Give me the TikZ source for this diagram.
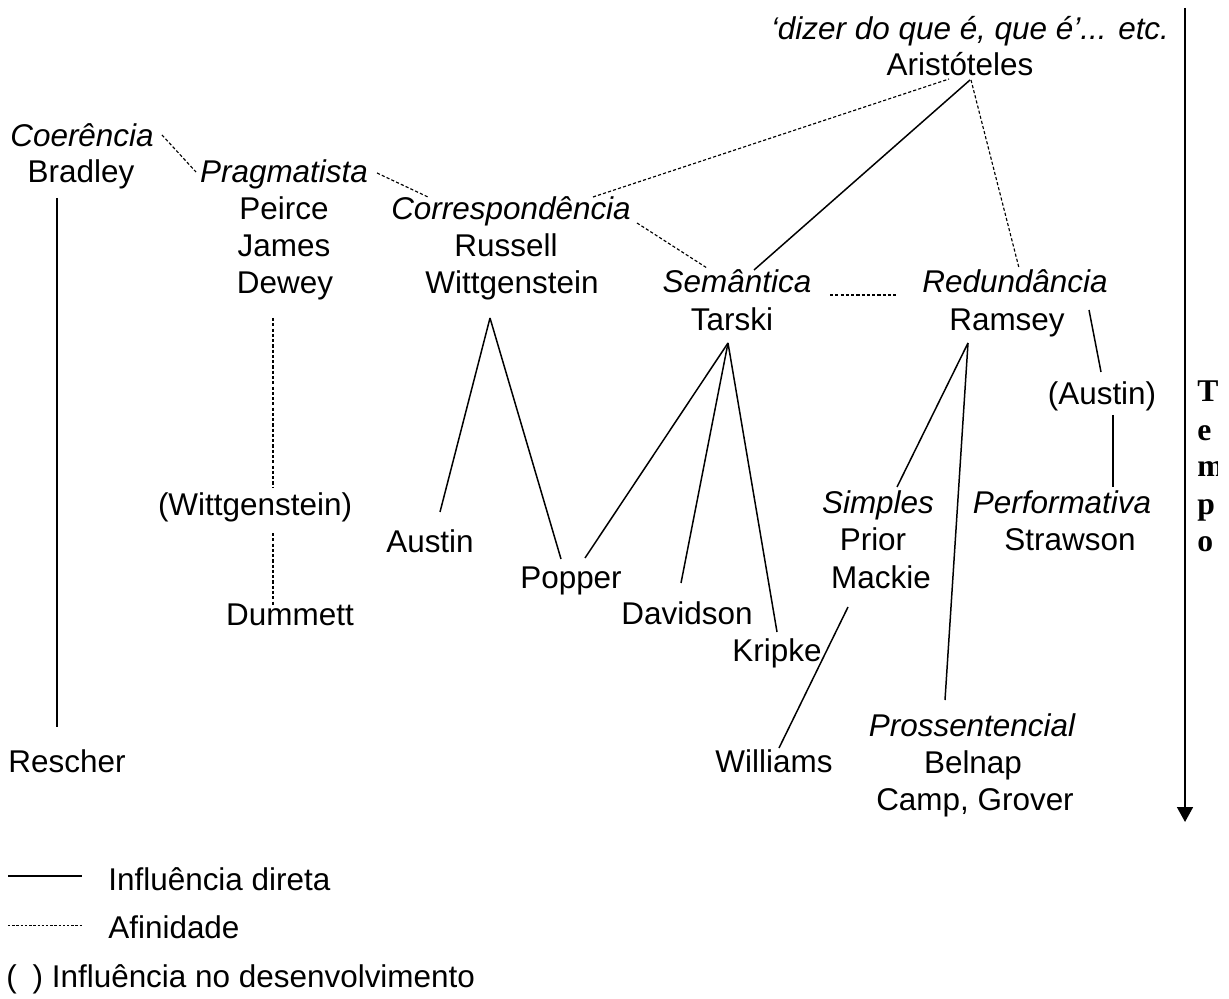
\documentclass[tikz,border=0pt]{standalone}
\usepackage{fontspec}
\setmainfont{Liberation Sans}
\newfontfamily\tempofont{Liberation Serif}
\usetikzlibrary{calc,arrows.meta}
\newcommand{\labelsize}{\fontsize{17.9pt}{21pt}\selectfont}

\tikzset{
  thinker/.style={inner sep=0pt, anchor=base, font=\labelsize},
  theory/.style={thinker, font=\labelsize\itshape},
  tempoletter/.style={inner sep=0pt, anchor=base west, font=\tempofont\bfseries\fontsize{18pt}{20pt}\selectfont},
  direct/.style={line width=0.85pt},
  affin/.style={line width=0.65pt, dash pattern=on 1.8pt off 1.2pt},
  timeline/.style={line width=1.2pt, -{Triangle[width=9pt,length=8.5pt]}}
}

\begin{document}
\begin{tikzpicture}[x=0.02cm, y=-0.02cm]
  \useasboundingbox (0,0) rectangle (1229,999);

  % Aristoteles
  \node[theory] (dizer) at (970,40) {‘dizer do que é, que é’... etc.};
  \node[thinker] (arist) at (960,76) {Aristóteles};

  % Coerencia
  \node[theory] (coer) at (82,147) {Coerência};
  \node[thinker] (bradley) at (81,183) {Bradley};
  \node[thinker] (rescher) at (67,772) {Rescher};

  % Pragmatista
  \node[theory] (prag) at (284,183) {Pragmatista};
  \node[thinker] (peirce) at (284,220) {Peirce};
  \node[thinker] (james) at (284,257) {James};
  \node[thinker] (dewey) at (285,294) {Dewey};
  \node[thinker] (wittpar) at (255,515) {(Wittgenstein)};
  \node[thinker] (dummett) at (290,625) {Dummett};

  % Correspondencia
  \node[theory] (corr) at (511,220) {Correspondência};
  \node[thinker] (russell) at (506,257) {Russell};
  \node[thinker] (wittg) at (512,294) {Wittgenstein};
  \node[thinker] (austin) at (430,552) {Austin};
  \node[thinker] (popper) at (571,588) {Popper};

  % Semantica
  \node[theory] (seman) at (737,293) {Semântica};
  \node[thinker] (tarski) at (732,331) {Tarski};
  \node[thinker] (davidson) at (687,624) {Davidson};
  \node[thinker] (kripke) at (777,661) {Kripke};

  % Redundancia
  \node[theory] (redund) at (1015,293) {Redundância};
  \node[thinker] (ramsey) at (1007,331) {Ramsey};
  \node[thinker] (austinpar) at (1102,405) {(Austin)};
  \node[theory] (simples) at (878,513) {Simples};
  \node[thinker] (prior) at (873,550) {Prior};
  \node[thinker] (mackie) at (881,588) {Mackie};
  \node[thinker] (williams) at (774,772) {Williams};
  \node[theory] (perf) at (1062,513) {Performativa};
  \node[thinker] (strawson) at (1070,550) {Strawson};
  \node[theory] (prosent) at (972,736) {Prossentencial};
  \node[thinker] (belnap) at (973,773) {Belnap};
  \node[thinker] (grover) at (975,810) {Camp, Grover};

  % Afinidades
  \draw[affin] ($(coer.base)+(80,-12)$) -- ($(prag.base)+(-88,-11)$);
  \draw[affin] ($(prag.base)+(93,-10)$) -- ($(corr.base)+(-83,-23)$);
  \draw[affin] ($(corr.base)+(82,-23)$) -- ($(arist.base)+(-11,3)$);
  \draw[affin] ($(corr.base)+(126,3)$) -- ($(seman.base)+(-30,-25)$);
  \draw[affin] ($(arist.base)+(11,4)$) -- ($(redund.base)+(4,-25)$);
  \draw[affin] ($(seman.base)+(93,2)$) -- ($(redund.base)+(-117,2)$);
  \draw[affin] ($(dewey.base)+(-12,24)$) -- ($(wittpar.base)+(18,-28)$);
  \draw[affin] ($(wittpar.base)+(18,18)$) -- ($(dummett.base)+(-17,-20)$);

  % Influencias diretas
  \draw[direct] ($(arist.base)+(10,4)$) -- ($(seman.base)+(17,-23)$);
  \draw[direct] ($(bradley.base)+(-24,15)$) -- ($(rescher.base)+(-10,-45)$);
  \draw[direct] ($(wittg.base)+(-22,24)$) -- ($(austin.base)+(10,-40)$);
  \draw[direct] ($(wittg.base)+(-22,24)$) -- ($(popper.base)+(-10,-29)$);
  \draw[direct] ($(tarski.base)+(-4,12)$) -- ($(popper.base)+(14,-30)$);
  \draw[direct] ($(tarski.base)+(-4,12)$) -- ($(davidson.base)+(-6,-41)$);
  \draw[direct] ($(tarski.base)+(-4,12)$) -- ($(kripke.base)+(0,-29)$);
  \draw[direct] ($(ramsey.base)+(-39,12)$) -- ($(simples.base)+(19,-26)$);
  \draw[direct] ($(ramsey.base)+(-39,12)$) -- ($(prosent.base)+(-27,-36)$);
  \draw[direct] ($(redund.base)+(74,17)$) -- ($(austinpar.base)+(-1,-33)$);
  \draw[direct] ($(austinpar.base)+(11,10)$) -- ($(perf.base)+(51,-26)$);
  \draw[direct] ($(mackie.base)+(-33,19)$) -- ($(williams.base)+(5,-24)$);

  % Tempo
  \coordinate (timetop) at (1185,8);
  \coordinate (timeend) at (1185,822);
  \draw[timeline] (timetop) -- (timeend);
  \begin{scope}
    \clip (1187,370) rectangle (1217,580);
    \node[tempoletter] (tempoT) at (1197,402) {T};
    \node[tempoletter] (tempoE) at (1197,440) {e};
    \node[tempoletter] (tempoM) at (1197,477) {m};
    \node[tempoletter] (tempoP) at (1197,514) {p};
    \node[tempoletter] (tempoO) at (1197,551) {o};
  \end{scope}

  % Legenda
  \node[thinker, anchor=base west] (legdir) at (108,890) {Influência direta};
  \node[thinker, anchor=base west] (legaff) at (108,938) {Afinidade};
  \node[thinker, anchor=base west] (legdev) at (6,987) {(\hspace{9pt}) Influência no desenvolvimento};
  \draw[direct, line width=1pt] ($(legdir.base west)+(-100,-14)$) -- ++(74,0);
  \draw[affin, line width=0.5pt, dash pattern=on 1.4pt off 1pt] ($(legaff.base west)+(-100,-13)$) -- ++(74,0);
\end{tikzpicture}
\end{document}
